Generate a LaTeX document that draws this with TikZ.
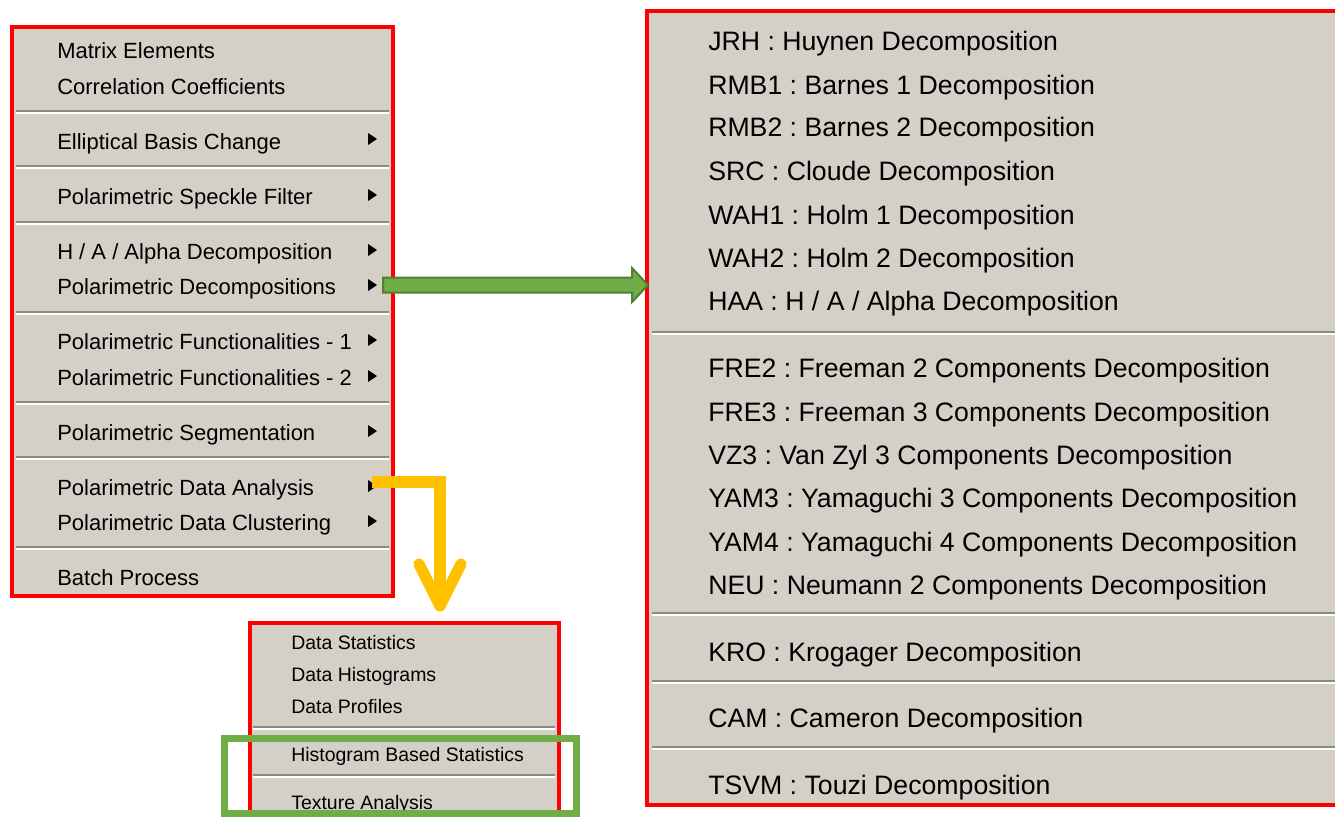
\documentclass[tikz,border=0pt]{standalone}
\usepackage{fontspec}
\setmainfont{Liberation Sans}
\usetikzlibrary{calc,fit}
\frenchspacing

\definecolor{menugray}{HTML}{D4D0C8}
\definecolor{sepgray}{HTML}{8C8A85}
\definecolor{boxred}{HTML}{FF0000}
\definecolor{selgreen}{HTML}{70AD47}
\definecolor{selgreendark}{HTML}{507E32}
\definecolor{gotoyellow}{HTML}{FFC000}

\begin{document}
\begin{tikzpicture}[x=0.75pt,y=-0.75pt,
    menu/.style={draw=boxred,line width=3pt,fill=menugray,inner sep=0pt},
    litem/.style={anchor=base west,inner sep=0pt,font=\fontsize{16.5}{18}\selectfont},
    ritem/.style={anchor=base west,inner sep=0pt,font=\fontsize{20}{22}\selectfont},
    bitem/.style={anchor=base west,inner sep=0pt,font=\fontsize{14.6}{16}\selectfont},
    sepdark/.style={draw=sepgray,line width=1.5pt},
    seplight/.style={draw=white,line width=1.5pt},
    selbox/.style={draw=selgreen,line width=5.25pt,inner sep=0pt},
    fatarrow/.style={fill=selgreen,draw=selgreendark,line width=1.5pt,line join=miter},
    goto/.style={draw=gotoyellow,line width=8.5pt}]

  \useasboundingbox (0,0) rectangle (1335,817);
  \clip (0,0) rectangle (1335,817);

  % the three menus
  \node[menu,fit={(12,27) (393,596)}] (lm) {};
  \node[menu,fit={(647,11) (1350,805)}] (rm) {};
  \node[menu,fit={(249.5,623) (559,840)}] (bm) {};

  \foreach \y in {111,166,222,312,402,457,547} {
    \draw[sepdark] (16,\y) -- (389,\y);
    \draw[seplight] (16,\y+2) -- (389,\y+2);
  }
  \foreach \y in {332,613,681,747} {
    \draw[sepdark] (652,\y) -- (1335,\y);
    \draw[seplight] (652,\y+2) -- (1335,\y+2);
  }
  \foreach \y in {727,775} {
    \draw[sepdark] (253,\y) -- (555,\y);
    \draw[seplight] (253,\y+2) -- (555,\y+2);
  }

  % left menu
  \node[litem] (l1) at (57,59) {Matrix Elements};
  \node[litem] (l2) at (57,94) {Correlation Coefficients};
  \node[litem] (l3) at (57,149) {Elliptical Basis Change};
  \node[litem] (l4) at (57,204) {Polarimetric Speckle Filter};
  \node[litem] (l5) at (57,259) {H / A / Alpha Decomposition};
  \node[litem] (l6) at (57,294) {Polarimetric Decompositions};
  \node[litem] (l7) at (57,349) {Polarimetric Functionalities - 1};
  \node[litem] (l8) at (57,385) {Polarimetric Functionalities - 2};
  \node[litem] (l9) at (57,440) {Polarimetric Segmentation};
  \node[litem] (l10) at (57,495) {Polarimetric Data Analysis};
  \node[litem] (l11) at (57,530) {Polarimetric Data Clustering};
  \node[litem] (l12) at (57,585) {Batch Process};

  \foreach \y in {139,195,250,285,340,376,431,486,521}
    \fill (368,\y-6) -- (377,\y) -- (368,\y+6) -- cycle;

  % right menu
  \node[ritem] (r1) at (708,51) {JRH : Huynen Decomposition};
  \node[ritem] (r2) at (708,94) {RMB1 : Barnes 1 Decomposition};
  \node[ritem] (r3) at (708,137) {RMB2 : Barnes 2 Decomposition};
  \node[ritem] (r4) at (708,180) {SRC : Cloude Decomposition};
  \node[ritem] (r5) at (708,224) {WAH1 : Holm 1 Decomposition};
  \node[ritem] (r6) at (708,267) {WAH2 : Holm 2 Decomposition};
  \node[ritem] (r7) at (708,310) {HAA : H / A / Alpha Decomposition};
  \node[ritem] (r8) at (708,377) {FRE2 : Freeman 2 Components Decomposition};
  \node[ritem] (r9) at (708,421) {FRE3 : Freeman 3 Components Decomposition};
  \node[ritem] (r10) at (708,464) {VZ3 : Van Zyl 3 Components Decomposition};
  \node[ritem] (r11) at (708,507) {YAM3 : Yamaguchi 3 Components Decomposition};
  \node[ritem] (r12) at (708,551) {YAM4 : Yamaguchi 4 Components Decomposition};
  \node[ritem] (r13) at (708,594) {NEU : Neumann 2 Components Decomposition};
  \node[ritem] (r14) at (708,661) {KRO : Krogager Decomposition};
  \node[ritem] (r15) at (708,727) {CAM : Cameron Decomposition};
  \node[ritem] (r16) at (708,794) {TSVM : Touzi Decomposition};

  % data analysis submenu
  \node[bitem] (b1) at (291,649) {Data Statistics};
  \node[bitem] (b2) at (291,681) {Data Histograms};
  \node[bitem] (b3) at (291,713) {Data Profiles};
  \node[bitem] (b4) at (291,761) {Histogram Based Statistics};
  \node[bitem] (b5) at (291,809) {Texture Analysis};

  \node[selbox,fit={(224,738) (576,813)}] (sel) {};

  % arrows
  \coordinate (gs) at (383,285);
  \coordinate (gt) at ($(rm.west |- gs)+(3,0)$);
  \draw[fatarrow] ($(gs)+(0,-7.5)$) -- ($(gt)+(-16,-7.5)$) -- ($(gt)+(-16,-17)$)
    -- (gt) -- ($(gt)+(-16,17)$) -- ($(gt)+(-16,7.5)$) -- ($(gs)+(0,7.5)$) -- cycle;

  \coordinate (ys) at (372,482);
  \coordinate (yt) at (440,606);
  \draw[goto] (ys) -| (yt);
  \draw[goto,line cap=round,line join=round] ($(yt)+(-21,-42)$) -- (yt) -- ($(yt)+(21,-42)$);

\end{tikzpicture}
\end{document}
